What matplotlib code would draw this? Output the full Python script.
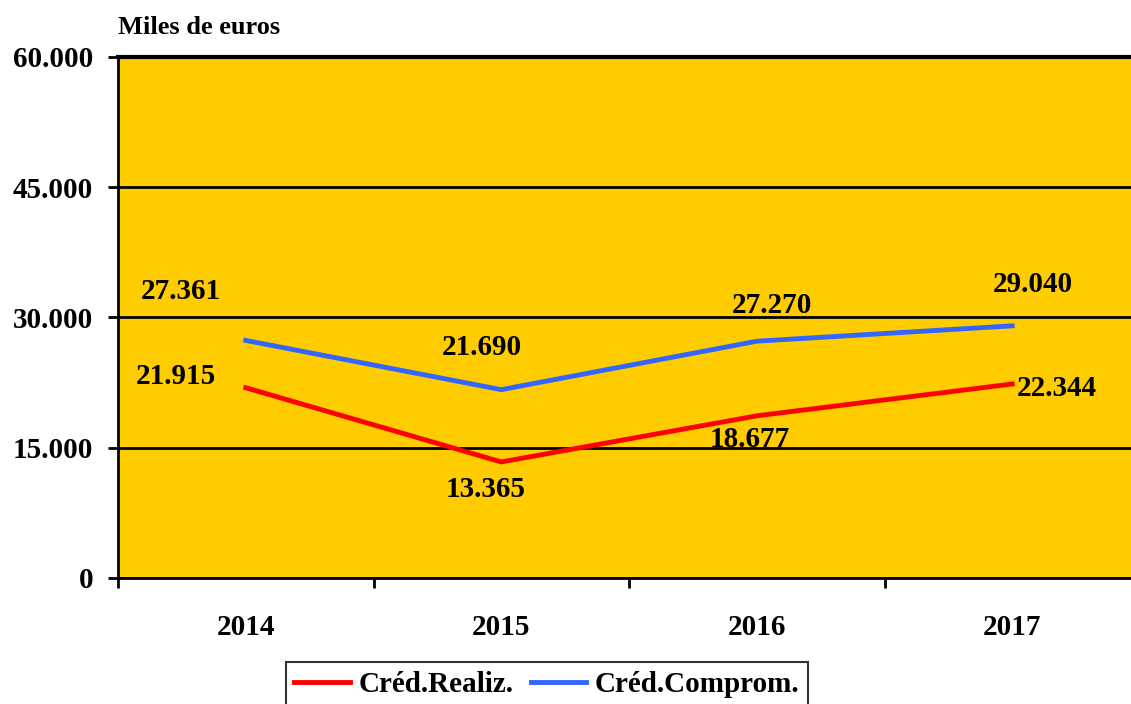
# coding=utf-8
import matplotlib
matplotlib.use("Agg")
import matplotlib.pyplot as plt
import numpy as np

# datos
years = ["2014", "2015", "2016", "2017"]
cred_realiz = [21915, 13365, 18677, 22344]
cred_comprom = [27361, 21690, 27270, 29040]
y_ticks = [0, 15000, 30000, 45000, 60000]
y_tick_labels = ["0", "15.000", "30.000", "45.000", "60.000"]

# desplazamiento de etiquetas (puntos)
off_realiz = [(-50, 8), (-11, -20), (-5, -17), (32, -3)]
off_comprom = [(-47, 35), (-14, 30), (11, 26), (15, 30)]


def fmt(v):
    return f"{v:,}".replace(",", ".")


plt.rcParams["font.family"] = ["Liberation Serif", "DejaVu Serif"]
plt.rcParams["font.weight"] = "bold"

fig = plt.figure(figsize=(11.31, 7.04), dpi=100)
ax = fig.add_axes([118 / 1131, 1 - 578 / 704, 1022 / 1131, 521 / 704])
ax.set_facecolor("#FFCC00")

x = np.arange(len(years))
l1, = ax.plot(x, cred_realiz, color="#FF0000", lw=3.5, label="Créd.Realiz.", zorder=3)
l2, = ax.plot(x, cred_comprom, color="#3366FF", lw=3.5, label="Créd.Comprom.", zorder=3)

for xi, v, off in zip(x, cred_realiz, off_realiz):
    ax.annotate(fmt(v), (xi, v), xytext=off, textcoords="offset points",
                ha="center", va="center", fontsize=21, fontweight="bold", zorder=4)
for xi, v, off in zip(x, cred_comprom, off_comprom):
    ax.annotate(fmt(v), (xi, v), xytext=off, textcoords="offset points",
                ha="center", va="center", fontsize=21, fontweight="bold", zorder=4)

ax.set_xlim(-0.5, 3.5)
ax.set_ylim(0, 60000)
ax.set_yticks(y_ticks)
ax.set_yticklabels(y_tick_labels, fontsize=21, fontweight="bold")
ax.yaxis.grid(True, color="black", lw=2)
ax.set_axisbelow(True)
ax.tick_params(axis="y", length=7, width=2, pad=11)

ax.set_xticks(x)
ax.set_xticklabels(years, fontsize=21, fontweight="bold")
ax.set_xticks(np.arange(-0.5, 3.6, 1), minor=True)
ax.tick_params(axis="x", which="major", length=0, pad=26)
ax.tick_params(axis="x", which="minor", length=7, width=2)

for s in ["left", "bottom"]:
    ax.spines[s].set_linewidth(2)
ax.spines["top"].set_linewidth(3)
ax.spines["right"].set_visible(False)

fig.text(118 / 1131, 1 - 28 / 704, "Miles de euros", fontsize=19,
         fontweight="bold", va="center", ha="left")

leg = fig.legend(handles=[l1, l2], loc="upper center",
                 bbox_to_anchor=(547 / 1131, 1 - 662 / 704), ncol=2,
                 fontsize=21, frameon=True, fancybox=False, handlelength=1.9,
                 handletextpad=0.3, columnspacing=0.6, borderpad=0.3,
                 borderaxespad=0)
leg.get_frame().set_edgecolor("black")
leg.get_frame().set_linewidth(1.5)
for t in leg.get_texts():
    t.set_fontweight("bold")

fig.savefig("out.png", dpi=100)
